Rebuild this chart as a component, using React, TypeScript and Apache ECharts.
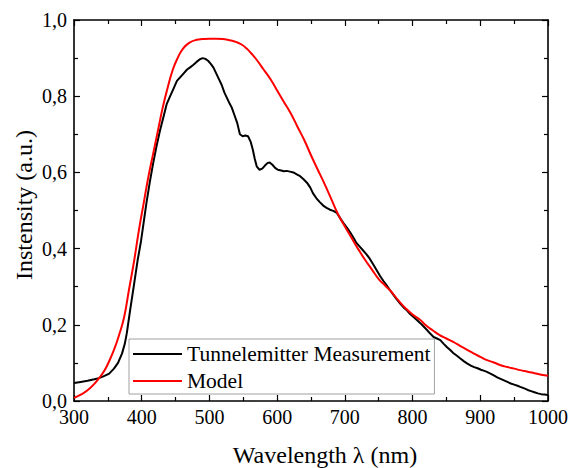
import React, { useEffect, useRef } from "react";
import * as echarts from "echarts";

const FONT = "Liberation Serif";

const measWavelength = [
  300, 310, 320, 330, 337, 345, 352, 359, 365, 371, 375, 378, 383, 389, 394, 399, 403, 407, 412, 417,
  422, 427, 432, 437, 442, 447, 452, 457, 462, 467, 471, 476, 481, 486, 490, 494, 498, 502, 506, 510,
  514, 518, 522, 526, 530, 533, 537, 541, 545, 549, 553, 557, 561, 564, 567, 570, 574, 578, 582, 586,
  589, 593, 597, 601, 606, 610, 614, 619, 624, 629, 634, 639, 644, 649, 653, 658, 663, 668, 673, 678,
  683, 688, 693, 698, 703, 708, 713, 717, 722, 727, 732, 737, 742, 747, 752, 757, 762, 767, 772, 777,
  782, 787, 791, 796, 801, 806, 811, 816, 821, 826, 831, 836, 841, 846, 851, 856, 860, 866, 871, 876,
  881, 886, 891, 896, 901, 906, 909, 915, 920, 925, 930, 935, 940, 945, 950, 955, 959, 965, 970, 975,
  980, 985, 990, 995, 1000,
];
const measIntensity = [
  0.047, 0.05, 0.053, 0.057, 0.06, 0.066, 0.072, 0.085, 0.1, 0.125, 0.15, 0.178, 0.24, 0.31, 0.37, 0.42, 0.47, 0.52, 0.575, 0.625,
  0.67, 0.71, 0.745, 0.78, 0.8, 0.82, 0.84, 0.85, 0.86, 0.87, 0.875, 0.882, 0.89, 0.897, 0.9, 0.898, 0.893, 0.885, 0.875, 0.86,
  0.845, 0.83, 0.81, 0.795, 0.78, 0.77, 0.75, 0.73, 0.7, 0.695, 0.697, 0.695, 0.68, 0.66, 0.635, 0.615, 0.607, 0.61, 0.618, 0.625,
  0.626, 0.62, 0.612, 0.607, 0.605, 0.603, 0.604, 0.602, 0.6, 0.595, 0.59, 0.582, 0.573, 0.56, 0.545, 0.532, 0.522, 0.513, 0.507, 0.502,
  0.499, 0.494, 0.48, 0.467, 0.455, 0.442, 0.428, 0.415, 0.405, 0.395, 0.385, 0.373, 0.358, 0.343, 0.328, 0.315, 0.303, 0.29, 0.278, 0.266,
  0.255, 0.245, 0.239, 0.229, 0.221, 0.213, 0.205, 0.196, 0.187, 0.177, 0.168, 0.164, 0.16, 0.15, 0.141, 0.133, 0.126, 0.118, 0.111, 0.104,
  0.098, 0.093, 0.089, 0.086, 0.082, 0.079, 0.077, 0.072, 0.067, 0.062, 0.058, 0.054, 0.05, 0.046, 0.043, 0.04, 0.037, 0.033, 0.029, 0.026,
  0.023, 0.02, 0.018, 0.017, 0.016,
];

const modelWavelength = [
  300, 310, 320, 330, 337, 345, 352, 359, 366, 374, 381, 389, 396, 403, 410, 417, 424, 431, 438, 446,
  453, 461, 470, 481, 490, 500, 510, 520, 530, 540, 548, 555, 562, 570, 580, 590, 600, 610, 620, 630,
  640, 650, 660, 670, 680, 690, 700, 710, 720, 730, 740, 750, 760, 767, 780, 790, 800, 811, 820, 830,
  840, 850, 860, 870, 880, 890, 900, 909, 920, 930, 940, 950, 959, 970, 980, 990, 1000,
];
const modelIntensity = [
  0.008, 0.017, 0.028, 0.045, 0.06, 0.08, 0.105, 0.134, 0.17, 0.22, 0.29, 0.37, 0.45, 0.52, 0.59, 0.65, 0.71, 0.77, 0.82, 0.87,
  0.9, 0.925, 0.94, 0.948, 0.95, 0.951, 0.951, 0.95, 0.947, 0.942, 0.935, 0.925, 0.912, 0.895, 0.87, 0.845, 0.815, 0.785, 0.755, 0.72,
  0.685, 0.645, 0.607, 0.57, 0.53, 0.49, 0.458, 0.428, 0.398, 0.37, 0.345, 0.32, 0.302, 0.29, 0.262, 0.243, 0.227, 0.213, 0.198, 0.185,
  0.173, 0.164, 0.155, 0.145, 0.135, 0.125, 0.116, 0.108, 0.101, 0.094, 0.089, 0.085, 0.081, 0.077, 0.073, 0.069, 0.066,
];

const seriesNames = ["Tunnelemitter Measurement", "Model"];
const xTitle = "Wavelength λ (nm)";
const yTitle = "Instensity (a.u.)";

export default function App() {
  const ref = useRef<HTMLDivElement>(null);
  useEffect(() => {
    if (!ref.current) return;
    const chart = echarts.init(ref.current, null, { renderer: "svg" });
    const axisLine = { show: true, onZero: false, lineStyle: { color: "#000", width: 1.6 } };
    const tick = { show: true, inside: true, length: 6, lineStyle: { color: "#000", width: 1.2 } };
    const minor = { show: true, splitNumber: 2, length: 4, lineStyle: { color: "#000", width: 1.2 } };
    const xBase = {
      type: "value",
      min: 300,
      max: 1000,
      interval: 100,
      axisLine,
      axisTick: tick,
      minorTick: minor,
      splitLine: { show: false },
    };
    const yBase = {
      type: "value",
      min: 0,
      max: 1,
      interval: 0.2,
      axisLine,
      axisTick: tick,
      minorTick: minor,
      splitLine: { show: false },
    };
    const fmt = (v: number) => v.toFixed(1).replace(".", ",");
    chart.setOption({
      animation: false,
      backgroundColor: "#fff",
      textStyle: { fontFamily: FONT },
      grid: { left: 74, right: 31, top: 20, bottom: 67, containLabel: false },
      xAxis: [
        {
          ...xBase,
          position: "bottom",
          axisLabel: {
            show: true,
            color: "#000",
            fontFamily: FONT,
            fontSize: 20,
            margin: 6,
            formatter: (v: number) => String(Math.round(v)),
          },
        },
        { ...xBase, position: "top", axisLabel: { show: false } },
      ],
      yAxis: [
        {
          ...yBase,
          position: "left",
          axisLabel: { show: true, color: "#000", fontFamily: FONT, fontSize: 20, margin: 7, formatter: fmt },
        },
        { ...yBase, position: "right", axisLabel: { show: false } },
      ],
      legend: {
        show: true,
        orient: "vertical",
        left: 129,
        top: 339,
        itemWidth: 49,
        itemHeight: 2,
        itemGap: 5,
        padding: [4, 4, 2, 4],
        borderColor: "#a0a0a0",
        borderWidth: 1,
        borderRadius: 0,
        backgroundColor: "#fff",
        textStyle: { color: "#000", fontFamily: FONT, fontSize: 21.5, lineHeight: 22 },
        data: seriesNames.map((n) => ({ name: n, icon: "rect" })),
      },
      graphic: [
        {
          type: "text",
          x: 325,
          y: 455,
          style: {
            text: xTitle,
            fill: "#000",
            fontFamily: FONT,
            fontSize: 24,
            textAlign: "center",
            textVerticalAlign: "middle",
          },
        },
        {
          type: "text",
          x: 24,
          y: 205,
          rotation: Math.PI / 2,
          style: {
            text: yTitle,
            fill: "#000",
            fontFamily: FONT,
            fontSize: 24,
            textAlign: "center",
            textVerticalAlign: "middle",
          },
        },
      ],
      series: [
        {
          name: seriesNames[0],
          type: "line",
          symbol: "none",
          showSymbol: false,
          smooth: false,
          lineStyle: { color: "#000", width: 2 },
          itemStyle: { color: "#000" },
          data: measWavelength.map((w, i) => [w, measIntensity[i]]),
        },
        {
          name: seriesNames[1],
          type: "line",
          symbol: "none",
          showSymbol: false,
          smooth: true,
          lineStyle: { color: "#ff0000", width: 2 },
          itemStyle: { color: "#ff0000" },
          data: modelWavelength.map((w, i) => [w, modelIntensity[i]]),
        },
      ],
    });
    return () => chart.dispose();
  }, []);
  return <div ref={ref} style={{ width: 579, height: 468, position: "absolute", left: 0, top: 0 }} />;
}
